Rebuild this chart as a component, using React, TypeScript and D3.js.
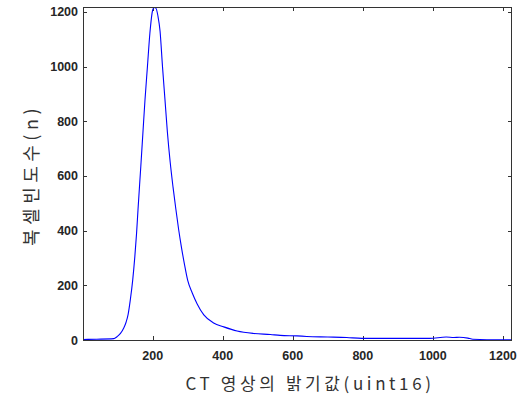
import React, { useEffect, useRef } from "react";
import * as d3 from "d3";

// histogram of CT brightness values
const brightness = [1, 40, 89, 98, 108, 117, 124, 130, 136, 143, 149, 154, 158, 166, 172, 178, 185, 192, 200, 204, 209, 215, 221, 228, 235, 242, 250, 258, 266, 274, 282, 291, 300, 313, 327, 346, 374, 403, 441, 488, 536, 564, 612, 640, 700, 754, 797, 880, 991, 1038, 1060, 1076, 1100, 1114, 1195, 1226];
const voxelCount = [2, 3, 5, 12, 24, 43, 65, 95, 146, 220, 305, 391, 475, 634, 756, 878, 1000, 1122, 1207, 1216, 1214, 1185, 1130, 1000, 880, 760, 650, 560, 480, 405, 340, 275, 218, 172, 132, 92, 62, 48, 33, 24, 20, 17, 15, 13, 11, 9, 6, 6, 6, 11, 9, 10, 7, 3, 1, 1];

const xTicks = [200, 400, 600, 800, 1000, 1200];
const yTicks = [0, 200, 400, 600, 800, 1000, 1200];

const xTitle = "CT 영상의 밝기값(uint16)";
const yTitle = "복셀빈도수(n)";

export default function App() {
  const svgRef = useRef<SVGSVGElement>(null);
  const width = 521;
  const height = 399;

  useEffect(() => {
    if (!svgRef.current) return;
    const svg = d3.select(svgRef.current);
    svg.selectAll("*").remove();

    const margin = { top: 7, right: 9, bottom: 59, left: 83 };
    const x = d3.scaleLinear().domain([1, 1226]).range([margin.left, width - margin.right]);
    const y = d3.scaleLinear().domain([0, 1218]).range([height - margin.bottom, margin.top]);
    const axisColor = "#333";
    const tickLen = 4;

    svg.append("rect")
      .attr("width", width)
      .attr("height", height)
      .attr("fill", "#fff");

    // ticks, inside on all four sides
    const g = svg.append("g").attr("stroke", axisColor).attr("stroke-width", 1);
    xTicks.forEach((t) => {
      const px = Math.round(x(t)) + 0.5;
      g.append("line").attr("x1", px).attr("x2", px)
        .attr("y1", y(0)).attr("y2", y(0) - tickLen);
      g.append("line").attr("x1", px).attr("x2", px)
        .attr("y1", margin.top).attr("y2", margin.top + tickLen);
    });
    yTicks.forEach((t) => {
      const py = Math.round(y(t)) + 0.5;
      g.append("line").attr("x1", margin.left).attr("x2", margin.left + tickLen)
        .attr("y1", py).attr("y2", py);
      g.append("line").attr("x1", width - margin.right).attr("x2", width - margin.right - tickLen)
        .attr("y1", py).attr("y2", py);
    });

    // the curve
    const line = d3.line<number>()
      .x((_, i) => x(brightness[i]))
      .y((d) => y(d))
      .curve(d3.curveMonotoneX);
    svg.append("path")
      .datum(voxelCount)
      .attr("d", line)
      .attr("fill", "none")
      .attr("stroke", "#0000ff")
      .attr("stroke-width", 1.1);

    // box
    svg.append("rect")
      .attr("x", margin.left + 0.5)
      .attr("y", margin.top + 0.5)
      .attr("width", width - margin.left - margin.right - 1)
      .attr("height", height - margin.top - margin.bottom)
      .attr("fill", "none")
      .attr("stroke", axisColor);

    // tick labels
    svg.append("g")
      .selectAll("text")
      .data(xTicks)
      .join("text")
      .attr("x", (d) => x(d))
      .attr("y", y(0) + 20)
      .attr("text-anchor", "middle")
      .attr("font-family", "Liberation Sans, Arial, sans-serif")
      .attr("font-size", "12.5px")
      .attr("font-weight", "bold")
      .attr("fill", "#262626")
      .text((d) => d);

    svg.append("g")
      .selectAll("text")
      .data(yTicks)
      .join("text")
      .attr("x", margin.left - 5)
      .attr("y", (d) => y(d) + 4.5)
      .attr("text-anchor", "end")
      .attr("font-family", "Liberation Sans, Arial, sans-serif")
      .attr("font-size", "12.5px")
      .attr("font-weight", "bold")
      .attr("fill", "#262626")
      .text((d) => d);

    // axis titles
    svg.append("text")
      .attr("x", 310)
      .attr("y", 390)
      .attr("text-anchor", "middle")
      .attr("font-family", "Noto Sans CJK KR, sans-serif")
      .attr("font-size", "17px")
      .attr("letter-spacing", "3.6px")
      .attr("fill", "#333")
      .text(xTitle);

    svg.append("text")
      .attr("transform", `translate(38, 175) rotate(-90)`)
      .attr("text-anchor", "middle")
      .attr("font-family", "Noto Sans CJK KR, sans-serif")
      .attr("font-size", "18px")
      .attr("letter-spacing", "4.5px")
      .attr("fill", "#333")
      .text(yTitle);
  }, []);

  return (
    <svg
      ref={svgRef}
      width={width}
      height={height}
      style={{ position: "absolute", left: 0, top: 0, display: "block" }}
    />
  );
}
